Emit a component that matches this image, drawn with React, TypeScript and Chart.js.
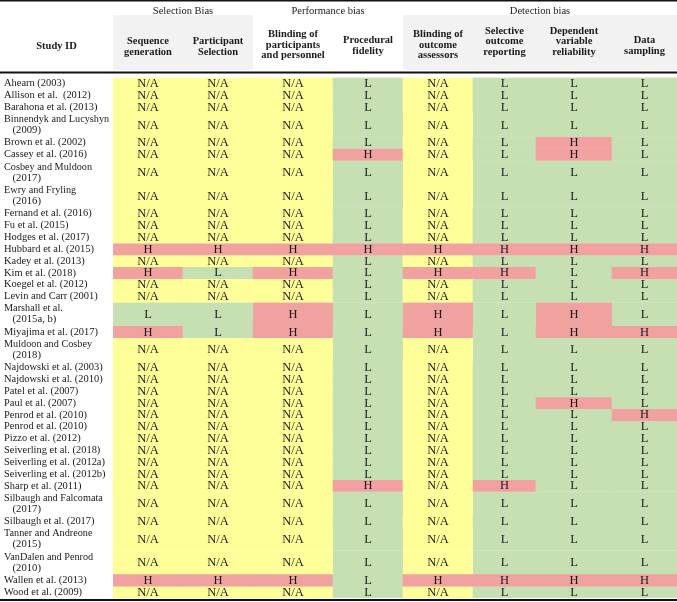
import React, { useEffect, useRef } from 'react';
import { Chart, registerables } from 'chart.js';

Chart.register(...registerables);

// ---------- data ----------
const studyIds: string[][] = [
  ['Ahearn (2003)'],
  ['Allison et al.  (2012)'],
  ['Barahona et al. (2013)'],
  ['Binnendyk and Lucyshyn', '(2009)'],
  ['Brown et al. (2002)'],
  ['Cassey et al. (2016)'],
  ['Cosbey and Muldoon', '(2017)'],
  ['Ewry and Fryling', '(2016)'],
  ['Fernand et al. (2016)'],
  ['Fu et al. (2015)'],
  ['Hodges et al. (2017)'],
  ['Hubbard et al. (2015)'],
  ['Kadey et al. (2013)'],
  ['Kim et al. (2018)'],
  ['Koegel et al. (2012)'],
  ['Levin and Carr (2001)'],
  ['Marshall et al.', '(2015a, b)'],
  ['Miyajima et al. (2017)'],
  ['Muldoon and Cosbey', '(2018)'],
  ['Najdowski et al. (2003)'],
  ['Najdowski et al. (2010)'],
  ['Patel et al. (2007)'],
  ['Paul et al. (2007)'],
  ['Penrod et al. (2010)'],
  ['Penrod et al. (2010)'],
  ['Pizzo et al. (2012)'],
  ['Seiverling et al. (2018)'],
  ['Seiverling et al. (2012a)'],
  ['Seiverling et al. (2012b)'],
  ['Sharp et al. (2011)'],
  ['Silbaugh and Falcomata', '(2017)'],
  ['Silbaugh et al. (2017)'],
  ['Tanner and Andreone', '(2015)'],
  ['VanDalen and Penrod', '(2010)'],
  ['Wallen et al. (2013)'],
  ['Wood et al. (2009)'],
];

const sequenceGeneration = [
  'N/A', 'N/A', 'N/A', 'N/A', 'N/A', 'N/A',
  'N/A', 'N/A', 'N/A', 'N/A', 'N/A', 'H',
  'N/A', 'H', 'N/A', 'N/A', 'L', 'H',
  'N/A', 'N/A', 'N/A', 'N/A', 'N/A', 'N/A',
  'N/A', 'N/A', 'N/A', 'N/A', 'N/A', 'N/A',
  'N/A', 'N/A', 'N/A', 'N/A', 'H', 'N/A',
];
const participantSelection = [
  'N/A', 'N/A', 'N/A', 'N/A', 'N/A', 'N/A',
  'N/A', 'N/A', 'N/A', 'N/A', 'N/A', 'H',
  'N/A', 'L', 'N/A', 'N/A', 'L', 'L',
  'N/A', 'N/A', 'N/A', 'N/A', 'N/A', 'N/A',
  'N/A', 'N/A', 'N/A', 'N/A', 'N/A', 'N/A',
  'N/A', 'N/A', 'N/A', 'N/A', 'H', 'N/A',
];
const blindingParticipants = [
  'N/A', 'N/A', 'N/A', 'N/A', 'N/A', 'N/A',
  'N/A', 'N/A', 'N/A', 'N/A', 'N/A', 'H',
  'N/A', 'H', 'N/A', 'N/A', 'H', 'H',
  'N/A', 'N/A', 'N/A', 'N/A', 'N/A', 'N/A',
  'N/A', 'N/A', 'N/A', 'N/A', 'N/A', 'N/A',
  'N/A', 'N/A', 'N/A', 'N/A', 'H', 'N/A',
];
const proceduralFidelity = [
  'L', 'L', 'L', 'L', 'L', 'H',
  'L', 'L', 'L', 'L', 'L', 'H',
  'L', 'L', 'L', 'L', 'L', 'L',
  'L', 'L', 'L', 'L', 'L', 'L',
  'L', 'L', 'L', 'L', 'L', 'H',
  'L', 'L', 'L', 'L', 'L', 'L',
];
const blindingAssessors = [
  'N/A', 'N/A', 'N/A', 'N/A', 'N/A', 'N/A',
  'N/A', 'N/A', 'N/A', 'N/A', 'N/A', 'H',
  'N/A', 'H', 'N/A', 'N/A', 'H', 'H',
  'N/A', 'N/A', 'N/A', 'N/A', 'N/A', 'N/A',
  'N/A', 'N/A', 'N/A', 'N/A', 'N/A', 'N/A',
  'N/A', 'N/A', 'N/A', 'N/A', 'H', 'N/A',
];
const selectiveReporting = [
  'L', 'L', 'L', 'L', 'L', 'L',
  'L', 'L', 'L', 'L', 'L', 'H',
  'L', 'H', 'L', 'L', 'L', 'L',
  'L', 'L', 'L', 'L', 'L', 'L',
  'L', 'L', 'L', 'L', 'L', 'H',
  'L', 'L', 'L', 'L', 'H', 'L',
];
const dependentReliability = [
  'L', 'L', 'L', 'L', 'H', 'H',
  'L', 'L', 'L', 'L', 'L', 'H',
  'L', 'L', 'L', 'L', 'H', 'H',
  'L', 'L', 'L', 'L', 'H', 'L',
  'L', 'L', 'L', 'L', 'L', 'L',
  'L', 'L', 'L', 'L', 'H', 'L',
];
const dataSampling = [
  'L', 'L', 'L', 'L', 'L', 'L',
  'L', 'L', 'L', 'L', 'L', 'H',
  'L', 'H', 'L', 'L', 'L', 'H',
  'L', 'L', 'L', 'L', 'L', 'H',
  'L', 'L', 'L', 'L', 'L', 'L',
  'L', 'L', 'L', 'L', 'H', 'L',
];

const domainColumns = [
  sequenceGeneration,
  participantSelection,
  blindingParticipants,
  proceduralFidelity,
  blindingAssessors,
  selectiveReporting,
  dependentReliability,
  dataSampling,
];

const columnHeaders: string[][] = [
  ['Sequence', 'generation'],
  ['Participant', 'Selection'],
  ['Blinding of', 'participants', 'and personnel'],
  ['Procedural', 'fidelity'],
  ['Blinding of', 'outcome', 'assessors'],
  ['Selective', 'outcome', 'reporting'],
  ['Dependent', 'variable', 'reliability'],
  ['Data', 'sampling'],
];
const studyHeader = 'Study ID';
const groupLabels = ['Selection Bias', 'Performance bias', 'Detection bias'];
const groupSpans = [[0, 2], [2, 4], [4, 8]];

// ---------- layout / style ----------
const W = 677;
const H = 602;
const LABEL_COL = 113;
const columnBounds = [0, 70, 140, 220, 290, 360, 423, 499, 564];
const headerCenters = [46.5, 46.5, 45, 46, 45, 41.7, 41.7, 46];
const shadedGroups = [true, false, true];
const SERIF = "'Liberation Serif', 'Times New Roman', serif";
const ratingColors: Record<string, string> = {
  'N/A': '#FFFF99',
  L: '#C6E0B4',
  H: '#F2A1A1',
};
const TEXT = '#1a1a1a';

// row geometry derived from the number of label lines
const rowUnits = studyIds.map((l) => l.length);
const rowCenters: number[] = [];
{
  let acc = 0;
  rowUnits.forEach((u) => {
    rowCenters.push(acc + u / 2);
    acc += u;
  });
}
const totalUnits = rowUnits.reduce((a, b) => a + b, 0);

const headerPlugin = {
  id: 'tableHeader',
  beforeDraw(chart: any) {
    const { ctx } = chart;
    const x = chart.scales.x;
    const px = (i: number) => x.getPixelForValue(columnBounds[i]);
    ctx.save();
    ctx.fillStyle = '#ffffff';
    ctx.fillRect(0, 0, W, H);
    ctx.fillStyle = '#F2F2F2';
    groupSpans.forEach((s, g) => {
      if (shadedGroups[g]) ctx.fillRect(px(s[0]), 15, px(s[1]) - px(s[0]), 55);
    });
    ctx.fillStyle = TEXT;
    ctx.textAlign = 'center';
    ctx.textBaseline = 'middle';
    ctx.font = `10.5px ${SERIF}`;
    groupSpans.forEach((s, g) => {
      ctx.fillText(groupLabels[g], (px(s[0]) + px(s[1])) / 2, 11);
    });
    ctx.font = `bold 10.5px ${SERIF}`;
    const lh = 10.7;
    columnHeaders.forEach((lines, j) => {
      const cx = (px(j) + px(j + 1)) / 2;
      const top = headerCenters[j] - ((lines.length - 1) * lh) / 2;
      lines.forEach((t, k) => ctx.fillText(t, cx, top + k * lh));
    });
    ctx.fillText(studyHeader, px(0) / 2, 46.5);
    ctx.fillStyle = '#111111';
    ctx.fillRect(0, 0, W, 1.5);
    ctx.fillRect(0, 71.5, W, 2);
    ctx.fillRect(0, 599, W, 2);
    ctx.restore();
  },
};

const textPlugin = {
  id: 'cellText',
  afterDatasetsDraw(chart: any) {
    const { ctx } = chart;
    const y = chart.scales.y;
    ctx.save();
    ctx.fillStyle = TEXT;
    ctx.textBaseline = 'middle';
    // study labels in the first column
    ctx.textAlign = 'left';
    ctx.font = `11px ${SERIF}`;
    const drawScaled = (t: string, tx: number, ty: number, sx: number) => {
      ctx.save();
      ctx.translate(tx, ty);
      ctx.scale(sx, 1);
      ctx.fillText(t, 0, 0);
      ctx.restore();
    };
    studyIds.forEach((lines, i) => {
      const cy = y.getPixelForValue(rowCenters[i]);
      if (lines.length === 1) {
        drawScaled(lines[0], 4, cy, 0.95);
      } else {
        const lh = 11;
        const top = cy - ((lines.length - 1) * lh) / 2;
        lines.forEach((t, k) => {
          drawScaled(t, k === 0 ? 4 : 12.5, top + k * lh, k === 0 ? 0.93 : 0.97);
        });
      }
    });
    // ratings in the cells
    ctx.textAlign = 'center';
    ctx.font = `12.5px ${SERIF}`;
    chart.data.datasets.forEach((ds: any, i: number) => {
      const meta = chart.getDatasetMeta(i);
      meta.data.forEach((el: any, j: number) => {
        const p = el.getCenterPoint();
        ctx.fillText(domainColumns[j][i], p.x, p.y + 0.5);
      });
    });
    ctx.restore();
  },
};

export default function App() {
  const ref = useRef<HTMLCanvasElement | null>(null);
  useEffect(() => {
    document.body.style.margin = '0';
    const canvas = ref.current;
    if (!canvas) return;
    const datasets = studyIds.map((label, i) => ({
      label: label.join(' '),
      data: domainColumns.map((_, j) => ({
        x: [columnBounds[j], columnBounds[j + 1]],
        y: rowCenters[i],
      })),
      backgroundColor: domainColumns.map((col) => ratingColors[col[i]]),
      borderWidth: 0,
      borderSkipped: false,
      grouped: false,
      categoryPercentage: 1,
      barPercentage: rowUnits[i],
    }));
    const chart = new Chart(canvas, {
      type: 'bar',
      data: { datasets } as any,
      options: {
        indexAxis: 'y',
        animation: false,
        responsive: false,
        devicePixelRatio: 1,
        layout: { padding: { top: 77.5, bottom: 4, left: LABEL_COL, right: 0 } },
        plugins: { legend: { display: false }, tooltip: { enabled: false } },
        scales: {
          x: { type: 'linear', display: false, min: 0, max: columnBounds[columnBounds.length - 1] },
          y: {
            type: 'linear',
            display: false,
            reverse: true,
            offset: false,
            min: 0,
            max: totalUnits,
            afterBuildTicks: (s: any) => {
              s.ticks = rowCenters.map((v) => ({ value: v }));
            },
          },
        },
      } as any,
      plugins: [headerPlugin, textPlugin],
    });
    return () => chart.destroy();
  }, []);
  return (
    <div style={{ width: W, height: H }}>
      <canvas ref={ref} width={W} height={H} style={{ display: 'block' }} />
    </div>
  );
}
